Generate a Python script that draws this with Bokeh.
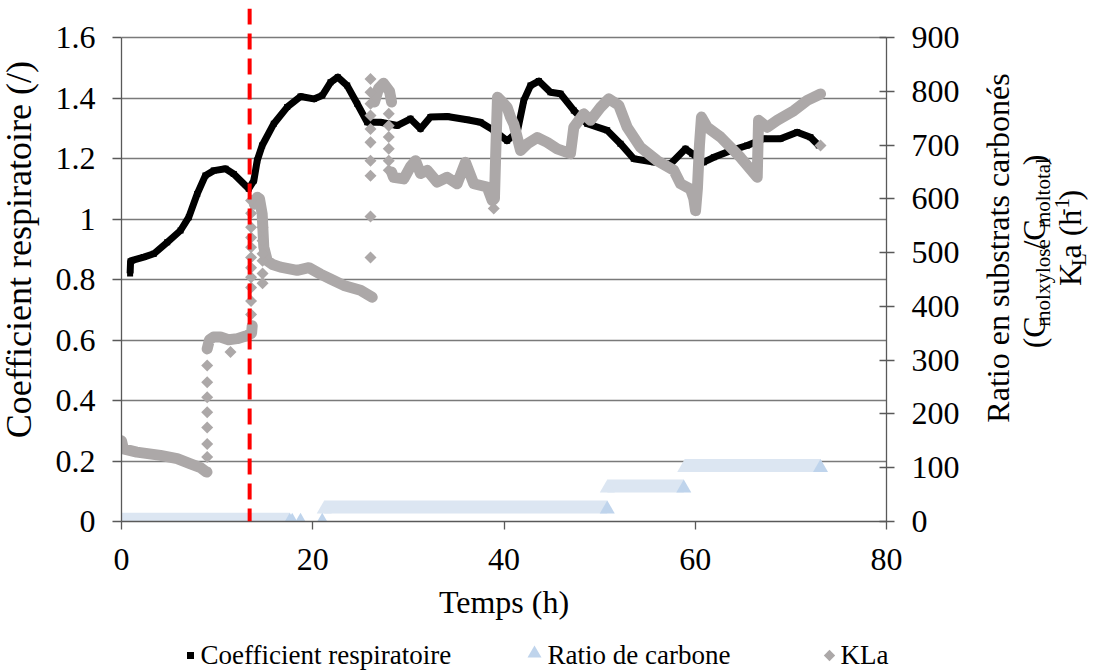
import math
from bokeh.plotting import figure
from bokeh.layouts import column, row
from bokeh.models import Range1d, LinearAxis, FixedTicker, Span
from bokeh.core.properties import value
from bokeh.embed import file_html
from bokeh.resources import INLINE

NaN = float("nan")

# ---------------- data ----------------
cr_time = [0.9, 0.95, 1.12, 2.33, 3.38, 4.78, 6.17, 7.04, 7.92, 8.78, 9.65, 10.88,
           11.74, 13.31, 13.84, 14.19, 14.71, 15.93, 17.33, 18.72, 20.11, 20.99,
           21.86, 22.62, 23.6, 24.65, 25.69, 27.08, 28.83, 30.22, 31.27, 32.31,
           34.06, 36.15, 37.54, 38.93, 40.33, 41.38, 42.07, 42.77, 43.64, 44.86,
           45.91, 47.3, 48.7, 50.79, 52.18, 53.57, 55.67, 57.41, 58.98, 59.68,
           60.89, 61.94, 63.69, 65.43, 67.17, 68.91, 70.66, 72.05, 72.92]
cr_value = [0.82, 0.86, 0.863, 0.874, 0.885, 0.923, 0.962, 1.006, 1.083, 1.144, 1.16,
            1.166, 1.149, 1.10, 1.127, 1.193, 1.243, 1.315, 1.37, 1.405, 1.397, 1.408,
            1.452, 1.469, 1.441, 1.381, 1.32, 1.32, 1.309, 1.331, 1.298, 1.337,
            1.339, 1.328, 1.32, 1.293, 1.259, 1.287, 1.392, 1.441, 1.456, 1.419,
            1.414, 1.359, 1.315, 1.293, 1.249, 1.199, 1.188, 1.182, 1.232, 1.216,
            1.188, 1.204, 1.226, 1.243, 1.265, 1.265, 1.287, 1.27, 1.243]

# KLa: continuous stretches (NaN separates them)
kla_time = [0.0, 0.2, 1.6, 4.08, 5.82, 7.22, 8.26, 8.78, 8.94, NaN,
            8.96, 9.2, 9.62, 10.35, 11.19, 12.1, 13.15, 13.6, 13.67, NaN,
            13.9, 14.19, 14.43, 14.71, 14.88, 15.24, 15.8, 16.63, 18.37, 19.59,
            20.81, 21.86, 23.25, 24.99, 26.22, NaN,
            26.46, 26.88, 27.4, 28.03, 28.24, NaN,
            28.24, 28.45, 29.52, 30.22, 30.75, 31.27, 31.97, 33.01, 34.06, 35.1,
            35.97, 36.84, 38.24, 38.77, 39.0, 39.16, 39.32, 39.98, 40.33, 40.68,
            41.03, 41.73, 42.43, 43.47, 44.52, 45.56, 46.95, 47.3, 48.34, 49.04,
            50.09, 50.96, 52.0, 52.88, 54.27, 56.02, 57.76, 58.46, 59.51, 59.85,
            60.03, 60.23, 60.44, 60.65, 61.25, 62.64, 64.73, 66.48, 66.56, 66.62,
            67.53, 68.58, 70.31, 71.71, 73.1]
kla_value = [150, 135, 129, 123, 117, 107, 100, 93, 92, NaN,
             321, 338, 343, 343, 338, 340, 346, 350, 364, NaN,
             590, 603, 600, 572, 510, 485, 478, 473, 467, 472,
             460, 451, 439, 430, 417, NaN,
             780, 805, 815, 800, 780, NaN,
             650, 640, 637, 660, 671, 647, 653, 631, 640, 628,
             668, 628, 622, 597, 600, 700, 789, 777, 770, 752,
             739, 690, 702, 714, 705, 693, 684, 733, 758, 746,
             770, 786, 774, 733, 696, 671, 653, 628, 618, 600,
             578, 620, 700, 752, 733, 715, 677, 640, 700, 746,
             733, 746, 764, 783, 795]
# KLa: isolated measurements (fast transitions)
kla_pt_time = [8.96] * 7 + [11.4] + [13.55] * 11 + [14.75] * 6 + [26.04] * 10 + \
              [27.95] * 6 + [38.93, 73.1]
kla_pt_value = [120, 144, 175, 203, 231, 259, 290,
                315,
                385, 410, 435, 454, 472, 491, 510, 528, 547, 573, 597,
                443, 461, 485, 498, 522, 547,
                491, 567, 643, 671, 705, 730, 755, 777, 798, 823,
                653, 671, 693, 715, 736, 758,
                582, 699]

# Ratio de carbone: constant levels
ratio_start = [0.0, 21.2, 50.8, 58.9]
ratio_end = [17.6, 50.8, 58.8, 73.1]
ratio_level = [0, 23, 62, 100]
ratio_pt_time = [17.85, 18.72, 20.99]
ratio_pt_value = [0, 0, 0]

x_ticks = [0, 20, 40, 60, 80]
left_ticks = [0, 0.2, 0.4, 0.6, 0.8, 1.0, 1.2, 1.4, 1.6]
left_labels = {0: "0", 0.2: "0.2", 0.4: "0.4", 0.6: "0.6", 0.8: "0.8", 1.0: "1",
               1.2: "1.2", 1.4: "1.4", 1.6: "1.6"}
right_ticks = [0, 100, 200, 300, 400, 500, 600, 700, 800, 900]
feed_switch_time = 13.4

legend_labels = ["Coefficient respiratoire", "Ratio de carbone", "KLa"]

# ---------------- styling / layout ----------------
FONT = "Liberation Serif"
LT_W = 40                     # left title strip
MAIN_W, MAIN_H = 928, 622
RT_W = 126                    # right title strip
LG_H = 48                     # legend strip
FL, FR, FT, FB = 81, 846, 8, 521      # frame edges inside main figure
LEFT_PX = 302.5                        # px per 1.0 on the left axis
Y_TOP = (FB - FT) / LEFT_PX
R_TOP = Y_TOP * 900 / 1.6
MID = 0.3375                  # em offset baseline -> middle (Liberation Serif)
ROT_FIX = 35.4                # px correction measured for rotated centred text
HOR_FIX = 8                   # px correction measured for horizontal baseline text

GREY = "#aca8a8"
BAND = "#dce6f2"
TRI = "#bfd4ec"
AX = "#595959"

p = figure(width=MAIN_W, height=MAIN_H, output_backend="svg", toolbar_location=None,
           x_range=Range1d(0, 80), y_range=Range1d(0, Y_TOP),
           min_border_left=FL, min_border_right=MAIN_W - FR, min_border_top=FT,
           min_border_bottom=MAIN_H - FB)
p.extra_y_ranges = {"right": Range1d(0, R_TOP)}
p.outline_line_color = None

p.xgrid.visible = False
p.ygrid.ticker = FixedTicker(ticks=left_ticks)
p.ygrid.grid_line_color = "#7a7a7a"
p.ygrid.grid_line_width = 1.3

for ax in (p.xaxis[0], p.yaxis[0]):
    ax.axis_line_color = AX
    ax.axis_line_width = 1.3
    ax.major_tick_line_color = AX
    ax.major_tick_line_width = 1.3
    ax.minor_tick_line_color = None
    ax.major_tick_in = 0
    ax.major_label_text_font = FONT
    ax.major_label_text_font_size = "32px"
    ax.major_label_text_color = "black"

p.xaxis.ticker = FixedTicker(ticks=x_ticks)
p.xaxis.bounds = (0, 80)
p.xaxis.major_tick_out = 8
p.xaxis.major_label_standoff = 19
p.xaxis.axis_label = "Temps (h)"
p.xaxis.axis_label_text_font = FONT
p.xaxis.axis_label_text_font_size = "32px"
p.xaxis.axis_label_text_font_style = "normal"
p.xaxis.axis_label_text_color = "black"
p.xaxis.axis_label_standoff = 11

p.yaxis.ticker = FixedTicker(ticks=left_ticks)
p.yaxis.major_label_overrides = left_labels
p.yaxis.bounds = (0, 1.6)
p.yaxis.major_tick_out = 9
p.yaxis.major_label_standoff = 17

ra = LinearAxis(y_range_name="right", ticker=FixedTicker(ticks=right_ticks),
                bounds=(0, 900))
ra.axis_line_color = AX
ra.axis_line_width = 1.3
ra.major_tick_line_color = AX
ra.major_tick_line_width = 1.3
ra.minor_tick_line_color = None
ra.major_tick_in = 7
ra.major_tick_out = 8
ra.major_label_standoff = 17
ra.major_label_text_font = FONT
ra.major_label_text_font_size = "32px"
ra.major_label_text_color = "black"
p.add_layout(ra, "right")

# ---------------- series ----------------
tri_size = 15
tri_h = tri_size * math.sqrt(3) / 2
band_shift = tri_h / 6 * R_TOP / (FB - FT)      # centre band on the triangle box
p.segment(x0=ratio_start, x1=ratio_end,
          y0=[v + band_shift for v in ratio_level],
          y1=[v + band_shift for v in ratio_level],
          line_color=BAND, line_width=tri_h, line_cap="butt", y_range_name="right")
p.scatter(x=ratio_start, y=ratio_level, marker="triangle", size=tri_size,
          fill_color=BAND, line_color=None, y_range_name="right")
p.scatter(x=ratio_pt_time, y=ratio_pt_value, marker="triangle", size=tri_size,
          fill_color=TRI, line_color=None, y_range_name="right")
p.scatter(x=ratio_end, y=ratio_level, marker="triangle", size=tri_size,
          fill_color=TRI, line_color=None, y_range_name="right")

p.line(x=cr_time, y=cr_value, line_color="black", line_width=7, line_join="round")
p.scatter(x=cr_time, y=cr_value, marker="square", size=6, fill_color="black",
          line_color=None)

p.line(x=kla_time, y=kla_value, line_color=GREY, line_width=11, line_join="round",
       line_cap="round", y_range_name="right")
p.scatter(x=kla_pt_time, y=kla_pt_value, marker="square", angle=math.pi / 4,
          size=8.5, fill_color=GREY, line_color=None, y_range_name="right")

p.add_layout(Span(location=feed_switch_time, dimension="height", line_color="#ff0000",
                  line_width=4, line_dash="16 9"))


def strip(w, h):
    f = figure(width=w, height=h, output_backend="svg", toolbar_location=None,
               x_range=Range1d(0, w), y_range=Range1d(h, 0),
               x_axis_type=None, y_axis_type=None, min_border=0)
    f.outline_line_color = None
    f.grid.visible = False
    return f


TW = {" ": 250, "(": 333, ")": 333, "/": 278, "-": 333, "1": 500, "C": 667, "K": 722,
      "L": 611, "R": 667, "a": 444, "b": 500, "c": 444, "e": 444, "h": 500, "i": 278,
      "l": 278, "m": 778, "n": 500, "o": 500, "r": 333, "s": 389, "t": 278, "u": 500,
      "x": 500, "y": 500, "é": 444, "f": 333, "p": 500}


def text_w(s, size):
    return sum(TW[c] for c in s) * size / 1000.0


def rich_line(fig, pieces, base_x, center_y):
    """vertical (bottom-to-top) line of text made of pieces; base_x = baseline px"""
    total = sum(text_w(t, s) for t, s, _ in pieces)
    y = center_y + total / 2.0
    for t, s, shift in pieces:
        w = text_w(t, s)
        fig.text(x=[base_x + shift - MID * s], y=[y - w / 2.0 + ROT_FIX], text=[t],
                 angle=math.pi / 2, text_align="center", text_baseline="middle",
                 text_font=value(FONT), text_font_size=f"{s}px", text_color="black")
        y -= w


# ---------------- left axis title ----------------
p_lt = strip(LT_W, MAIN_H)
rich_line(p_lt, [("Coefficient respiratoire (/)", 36, 0)], 31, 257)

# ---------------- right axis title (rich text from pieces) ----------------
p_rt = strip(RT_W, MAIN_H)
BIG, SMALL = 32, 21
X0 = LT_W + MAIN_W
rich_line(p_rt, [("Ratio en substrats carbonés", BIG, 0)], 1008 - X0, 255)
rich_line(p_rt, [("(C", BIG, 0), ("molxylose", SMALL, 6), ("/C", BIG, 0),
                 ("moltotal", SMALL, 6), (")", BIG, 0)], 1044 - X0, 258)
rich_line(p_rt, [("K", BIG, 0), ("L", SMALL, 6), ("a (h", BIG, 0), ("-1", SMALL, -11),
                 (")", BIG, 0)], 1080 - X0, 242)

# ---------------- legend strip ----------------
Y0 = MAIN_H
p_lg = strip(LT_W + MAIN_W + RT_W, LG_H)
p_lg.scatter(x=[190], y=[655 - Y0], marker="square", size=7, fill_color="black",
             line_color=None)
p_lg.scatter(x=[534], y=[653 - Y0], marker="triangle", size=14, fill_color=TRI,
             line_color=None)
p_lg.scatter(x=[829], y=[655 - Y0], marker="square", angle=math.pi / 4, size=8,
             fill_color=GREY, line_color=None)
p_lg.text(x=[200, 547, 840], y=[662 - HOR_FIX - Y0] * 3,
          text=legend_labels, text_align="left", text_baseline="alphabetic",
          text_font=value(FONT), text_font_size="27px", text_color="black")

layout = column(row(p_lt, p, p_rt), p_lg)
open("out.html", "w").write(file_html(layout, INLINE))
